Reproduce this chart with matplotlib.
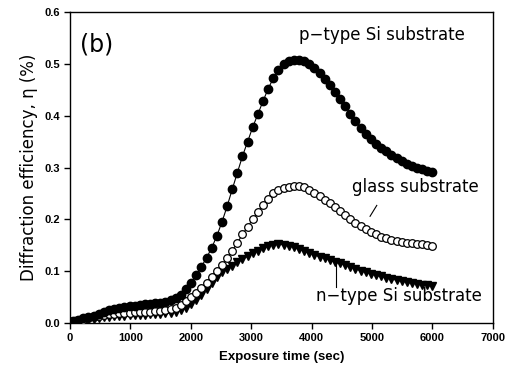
import matplotlib
matplotlib.use("Agg")
import matplotlib.pyplot as plt

plt.rcParams['font.family'] = ['Liberation Sans', 'DejaVu Sans']

time_s = [50, 135, 220, 305, 390, 475, 560, 645, 730, 815, 900, 985, 1070, 1155,
          1240, 1325, 1410, 1495, 1580, 1665, 1750, 1835, 1920, 2005, 2090, 2175,
          2260, 2345, 2430, 2515, 2600, 2685, 2770, 2855, 2940, 3025, 3110, 3195,
          3280, 3365, 3450, 3535, 3620, 3705, 3790, 3875, 3960, 4045, 4130, 4215,
          4300, 4385, 4470, 4555, 4640, 4725, 4810, 4895, 4980, 5065, 5150, 5235,
          5320, 5405, 5490, 5575, 5660, 5745, 5830, 5915, 6000]

p_type = [0.005, 0.007, 0.009, 0.011, 0.014, 0.017, 0.021, 0.025, 0.028, 0.030,
          0.032, 0.033, 0.034, 0.035, 0.036, 0.037, 0.038, 0.039, 0.041, 0.044,
          0.048, 0.055, 0.065, 0.078, 0.093, 0.109, 0.126, 0.145, 0.168, 0.195,
          0.225, 0.258, 0.290, 0.322, 0.350, 0.378, 0.403, 0.428, 0.452, 0.472,
          0.488, 0.499, 0.505, 0.508, 0.508, 0.505, 0.499, 0.491, 0.482, 0.471,
          0.459, 0.446, 0.432, 0.418, 0.404, 0.389, 0.376, 0.365, 0.355, 0.346,
          0.338, 0.331, 0.324, 0.318, 0.312, 0.307, 0.303, 0.300, 0.297, 0.294,
          0.291]

glass = [0.004, 0.005, 0.007, 0.009, 0.011, 0.013, 0.015, 0.017, 0.018, 0.019,
         0.020, 0.020, 0.021, 0.021, 0.022, 0.022, 0.023, 0.024, 0.025, 0.027,
         0.030, 0.035, 0.042, 0.050, 0.058, 0.067, 0.078, 0.089, 0.100, 0.112,
         0.125, 0.140, 0.155, 0.171, 0.186, 0.200, 0.214, 0.228, 0.240, 0.250,
         0.257, 0.261, 0.263, 0.264, 0.264, 0.262, 0.257, 0.251, 0.245, 0.238,
         0.231, 0.224, 0.216, 0.208, 0.200, 0.193, 0.187, 0.181, 0.176, 0.171,
         0.167, 0.164, 0.161, 0.159, 0.157, 0.155, 0.154, 0.153, 0.152, 0.151,
         0.149]

n_type = [0.003, 0.004, 0.005, 0.006, 0.008, 0.009, 0.011, 0.012, 0.013, 0.014,
          0.014, 0.015, 0.015, 0.016, 0.016, 0.017, 0.017, 0.018, 0.019, 0.020,
          0.022, 0.025, 0.030, 0.037, 0.045, 0.055, 0.066, 0.077, 0.088, 0.098,
          0.105, 0.111, 0.117, 0.123, 0.129, 0.135, 0.140, 0.144, 0.148, 0.151,
          0.152, 0.151, 0.149, 0.146, 0.142, 0.139, 0.135, 0.132, 0.128, 0.125,
          0.121, 0.118, 0.115, 0.112, 0.108, 0.105, 0.101, 0.098, 0.095, 0.092,
          0.090, 0.087, 0.085, 0.083, 0.081, 0.079, 0.077, 0.076, 0.074, 0.073,
          0.071]

x_ticks = [0, 1000, 2000, 3000, 4000, 5000, 6000, 7000]
y_ticks = [0.0, 0.1, 0.2, 0.3, 0.4, 0.5, 0.6]

fig = plt.figure(figsize=(5.15, 3.74), dpi=100)
ax = fig.add_axes([0.136, 0.136, 0.821, 0.832])

ax.plot(time_s, n_type, color='black', lw=0.8, marker='v', ms=6,
        mfc='black', mec='black', zorder=3)
ax.plot(time_s, glass, color='black', lw=0.8, marker='o', ms=5.5,
        mfc='white', mec='black', mew=0.9, zorder=4)
ax.plot(time_s, p_type, color='black', lw=0.8, marker='o', ms=6,
        mfc='black', mec='black', zorder=5)

ax.set_xlim(0, 7000)
ax.set_ylim(0, 0.6)
ax.set_xticks(x_ticks)
ax.set_yticks(y_ticks)
ax.set_xticklabels([str(v) for v in x_ticks], fontsize=8, fontweight='bold')
ax.set_yticklabels([f"{v:.1f}" for v in y_ticks], fontsize=8, fontweight='bold')
ax.tick_params(direction='out', length=4, width=1, pad=3)
for s in ax.spines.values():
    s.set_linewidth(1.0)

ax.set_xlabel('Exposure time (sec)', fontsize=9.5, fontweight='bold', labelpad=6)
ax.set_ylabel('Diffraction efficiency, η (%)', fontsize=12, labelpad=5,
              family=['DejaVu Sans'])

ax.text(0.024, 0.894, '(b)', transform=ax.transAxes, fontsize=17,
        va='center', ha='left', family=['DejaVu Sans'])
ax.text(5166, 0.555, 'p\u2212type Si substrate', fontsize=12, ha='center',
        va='center', family=['DejaVu Sans'])
ax.text(5712, 0.262, 'glass substrate', fontsize=12, ha='center',
        va='center', family=['DejaVu Sans'])
ax.text(5447, 0.052, 'n\u2212type Si substrate', fontsize=12, ha='center',
        va='center', family=['DejaVu Sans'])
ax.plot([5078, 4967], [0.227, 0.206], color='black', lw=0.8)
ax.plot([4400, 4400], [0.116, 0.069], color='black', lw=0.8)

fig.savefig('out.png', dpi=100)
